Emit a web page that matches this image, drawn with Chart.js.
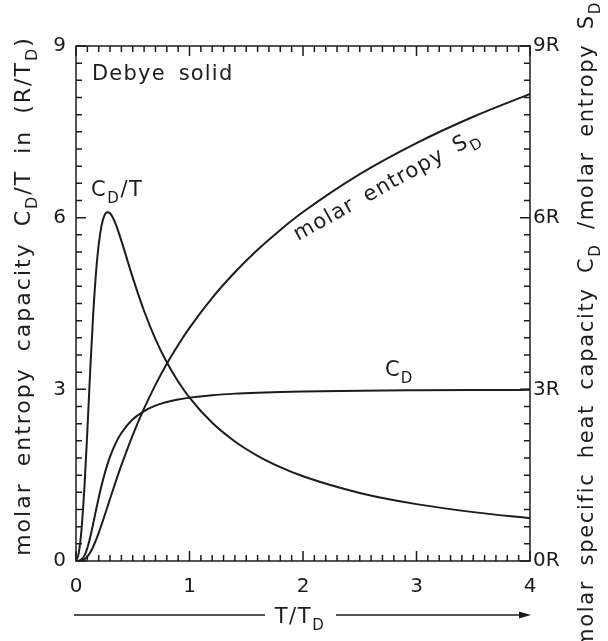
<!DOCTYPE html>
<html>
<head>
<meta charset="utf-8">
<script src="https://cdn.jsdelivr.net/npm/chart.js@4.4.1/dist/chart.umd.min.js"></script>
<style>
    html, body { margin: 0; padding: 0; background: #fff; }
    canvas { display: block; }
</style>
</head>
<body>
<canvas id="debyeChart" width="608" height="641"></canvas>
<script>
// reduced temperature T/T_D
const tValues = [0, 0.025, 0.05, 0.075, 0.1, 0.125, 0.15, 0.175, 0.2, 0.225, 0.25, 0.275, 0.3, 0.35, 0.4, 0.5, 0.6, 0.7, 0.8, 0.9, 1.0, 1.2, 1.4, 1.6, 1.8, 2.0, 2.5, 3.0, 3.5, 4.0];
// C_D in R
const cdValues = [0, 0.004, 0.029, 0.098, 0.228, 0.415, 0.639, 0.876, 1.106, 1.319, 1.509, 1.676, 1.823, 2.061, 2.238, 2.476, 2.621, 2.715, 2.778, 2.823, 2.855, 2.898, 2.925, 2.942, 2.954, 2.963, 2.976, 2.983, 2.988, 2.991];
// C_D/T in R/T_D
const cdOverTValues = [0, 0.146, 0.584, 1.312, 2.275, 3.316, 4.26, 5.004, 5.529, 5.861, 6.035, 6.094, 6.077, 5.889, 5.594, 4.952, 4.369, 3.878, 3.473, 3.136, 2.855, 2.415, 2.089, 1.839, 1.641, 1.481, 1.190, 0.994, 0.854, 0.748];
// S_D in R
const sdValues = [0, 0.001, 0.010, 0.033, 0.077, 0.147, 0.242, 0.359, 0.491, 0.633, 0.782, 0.934, 1.087, 1.387, 1.674, 2.201, 2.666, 3.078, 3.445, 3.775, 4.074, 4.599, 5.047, 5.439, 5.786, 6.098, 6.761, 7.304, 7.764, 8.164];

const xTicks = [0, 1, 2, 3, 4];
const yTicks = [0, 3, 6, 9];

const ink = '#1c1c1c';
const fontFamily = "'DejaVu Sans', sans-serif";

const toPoints = (values) => tValues.map((t, i) => ({ x: t, y: values[i] }));

// text with subscripts, parts = [[text, isSub], ...]
const drawRich = (ctx, parts, x, y, size, align, spacing = 1.2, wordGap = 5) => {
    const subSize = Math.round(size * 0.72);
    ctx.letterSpacing = spacing + 'px';
    ctx.wordSpacing = wordGap + 'px';
    let width = 0;
    parts.forEach(([text, sub]) => {
        ctx.font = (sub ? subSize : size) + 'px ' + fontFamily;
        width += ctx.measureText(text).width;
    });
    let cx = align === 'center' ? x - width / 2 : x;
    ctx.textAlign = 'left';
    ctx.textBaseline = 'alphabetic';
    parts.forEach(([text, sub]) => {
        ctx.font = (sub ? subSize : size) + 'px ' + fontFamily;
        ctx.fillText(text, cx, sub ? y + size * 0.32 : y);
        cx += ctx.measureText(text).width;
    });
    ctx.letterSpacing = '0px';
    ctx.wordSpacing = '0px';
};

const framePlugin = {
    id: 'frame',
    afterDraw(chart) {
        const { ctx, chartArea: a, scales } = chart;
        const xs = scales.x;
        const ys = scales.y;
        ctx.save();
        ctx.strokeStyle = ink;
        ctx.fillStyle = ink;
        ctx.lineWidth = 1.5;
        ctx.strokeRect(a.left, a.top, a.right - a.left, a.bottom - a.top);

        // inward ticks
        ctx.beginPath();
        for (let i = 0; i <= 40; i++) {
            const px = xs.getPixelForValue(i / 10);
            const len = i % 10 === 0 ? 10 : 6;
            ctx.moveTo(px, a.bottom); ctx.lineTo(px, a.bottom - len);
            ctx.moveTo(px, a.top); ctx.lineTo(px, a.top + len);
        }
        for (let i = 0; i <= 30; i++) {
            const py = ys.getPixelForValue(i * 0.3);
            const len = i % 10 === 0 ? 10 : 6;
            ctx.moveTo(a.left, py); ctx.lineTo(a.left + len, py);
            ctx.moveTo(a.right, py); ctx.lineTo(a.right - len, py);
        }
        ctx.stroke();

        // labels inside the plot
        drawRich(ctx, [['Debye solid', false]], 92, 80, 21, 'left');
        drawRich(ctx, [['C', false], ['D', true], ['/T', false]], 91, 196, 21, 'left', 1.6);
        drawRich(ctx, [['C', false], ['D', true]], 385, 376, 21, 'left');

        ctx.save();
        ctx.translate(298, 241);
        ctx.rotate(-29 * Math.PI / 180);
        drawRich(ctx, [['molar entropy S', false], ['D', true]], 0, 0, 21, 'left');
        ctx.restore();

        // x title with arrow
        const ay = 615;
        drawRich(ctx, [['T/T', false], ['D', true]], 300, 623, 21, 'center', 1.6);
        ctx.lineWidth = 1.3;
        ctx.beginPath();
        ctx.moveTo(74, ay); ctx.lineTo(265, ay);
        ctx.moveTo(336, ay); ctx.lineTo(522, ay);
        ctx.stroke();
        ctx.beginPath();
        ctx.moveTo(531, ay); ctx.lineTo(519, ay - 3.5); ctx.lineTo(519, ay + 3.5);
        ctx.closePath();
        ctx.fill();

        // y titles
        ctx.save();
        ctx.translate(30, 296);
        ctx.rotate(-Math.PI / 2);
        drawRich(ctx, [['molar entropy capacity C', false], ['D', true], ['/T in (R/T', false], ['D', true], [')', false]], 0, 0, 22, 'center', 2, 7);
        ctx.restore();

        ctx.save();
        ctx.translate(593, 325);
        ctx.rotate(-Math.PI / 2);
        drawRich(ctx, [['molar specific heat capacity C', false], ['D', true], [' /molar entropy S', false], ['D', true]], 0, 0, 21, 'center', 1.7, 6);
        ctx.restore();

        ctx.restore();
    },
};

const curve = (values) => ({
    data: toPoints(values),
    borderColor: ink,
    borderWidth: 2,
    pointRadius: 0,
    fill: false,
    cubicInterpolationMode: 'monotone',
});

const tickFont = { family: fontFamily, size: 20 };

new Chart(document.getElementById('debyeChart'), {
    type: 'line',
    data: {
        datasets: [curve(cdOverTValues), curve(cdValues), curve(sdValues)],
    },
    options: {
        responsive: false,
        animation: false,
        devicePixelRatio: 1,
        layout: { padding: { top: 46, left: 0, right: 0, bottom: 0 } },
        plugins: { legend: { display: false }, tooltip: { enabled: false } },
        scales: {
            x: {
                type: 'linear',
                min: 0,
                max: 4,
                afterBuildTicks: (s) => { s.ticks = xTicks.map((v) => ({ value: v })); },
                ticks: { color: ink, font: tickFont, padding: 14 },
                grid: { display: false, drawTicks: false },
                border: { display: false },
                afterFit: (s) => { s.height = 80; },
            },
            y: {
                min: 0,
                max: 9,
                afterBuildTicks: (s) => { s.ticks = yTicks.map((v) => ({ value: v })); },
                ticks: { color: ink, font: tickFont, padding: 10 },
                grid: { display: false, drawTicks: false },
                border: { display: false },
                afterFit: (s) => { s.width = 76; },
            },
            y2: {
                position: 'right',
                min: 0,
                max: 9,
                afterBuildTicks: (s) => { s.ticks = yTicks.map((v) => ({ value: v })); },
                ticks: { color: ink, font: tickFont, padding: 3, callback: (v) => v + 'R' },
                grid: { display: false, drawTicks: false },
                border: { display: false },
                afterFit: (s) => { s.width = 78; },
            },
        },
    },
    plugins: [framePlugin],
});
</script>
</body>
</html>
